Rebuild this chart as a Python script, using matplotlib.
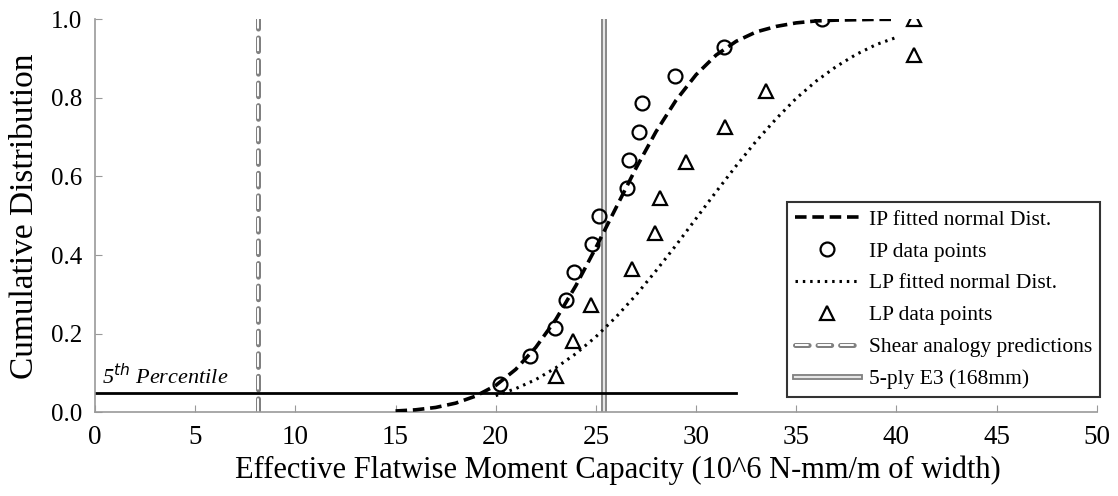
import matplotlib
matplotlib.use("Agg")
import matplotlib.pyplot as plt
import matplotlib.patheffects as pe

plt.rcParams['font.family'] = ['Liberation Serif', 'DejaVu Serif']

# fitted curves
ip_fit_x = [15, 16, 17, 18, 19, 20, 21, 22, 23, 24, 25, 26, 27, 28, 29, 30,
            31, 32, 33, 34, 35, 36, 37, 38, 39, 40]
ip_fit_y = [0.003, 0.006, 0.012, 0.023, 0.041, 0.068, 0.109, 0.165, 0.236,
            0.322, 0.419, 0.520, 0.621, 0.714, 0.794, 0.859, 0.909, 0.944,
            0.968, 0.982, 0.991, 0.996, 0.998, 0.999, 1.0, 1.0]
lp_fit_x = [20, 21, 22, 23, 24, 25, 26, 27, 28, 29, 30, 31, 32, 33, 34, 35,
            36, 37, 38, 39, 40]
lp_fit_y = [0.042, 0.060, 0.083, 0.113, 0.149, 0.192, 0.242, 0.298, 0.360,
            0.425, 0.493, 0.561, 0.627, 0.690, 0.747, 0.799, 0.843, 0.880,
            0.911, 0.936, 0.954]

# data points
ip_x = [20.2, 21.7, 22.95, 23.5, 23.9, 24.8, 25.15, 26.55, 26.65, 27.15,
        27.3, 28.95, 31.4, 36.3]
ip_y = [0.071, 0.143, 0.214, 0.286, 0.357, 0.429, 0.500, 0.571, 0.643,
        0.714, 0.786, 0.857, 0.929, 1.0]
lp_x = [23.0, 23.85, 24.75, 26.8, 27.95, 28.2, 29.5, 31.45, 33.5, 40.9, 40.9]
lp_y = [0.091, 0.182, 0.273, 0.364, 0.455, 0.545, 0.636, 0.727, 0.818,
        0.909, 1.0]

shear_x = 8.15
e3_x = 25.4
pct5 = 0.05
pct5_end = 32

fig = plt.figure(figsize=(11.18, 4.96), dpi=100)
ax = fig.add_axes([0.085, 0.169, 0.896, 0.792])

ax.plot(ip_fit_x, ip_fit_y, color='black', lw=2.6, ls=(0, (3.2, 1.6)),
        label='IP fitted normal Dist.', zorder=3)
ax.plot(ip_x, ip_y, ls='none', marker='o', ms=10, mfc='none', mec='black',
        mew=1.6, label='IP data points', zorder=4)
ax.plot(lp_fit_x, lp_fit_y, color='black', lw=2.2, ls=(0, (0.8, 1.6)),
        label='LP fitted normal Dist.', zorder=3)
ax.plot(lp_x, lp_y, ls='none', marker='^', ms=10, mfc='none', mec='black',
        mew=1.6, label='LP data points', zorder=4)

# hollow grey lines
hollow_round = [pe.Stroke(linewidth=3.6, foreground='#808080',
                          capstyle='round'), pe.Normal()]
hollow = [pe.Stroke(linewidth=4.2, foreground='#808080'), pe.Normal()]
ax.plot([shear_x, shear_x], [0, 1], color='white', lw=1.4,
        ls=(0, (7.0, 4.6)), solid_capstyle='butt', dash_capstyle='butt',
        path_effects=hollow_round,
        label='Shear analogy predictions', zorder=2)
ax.plot([e3_x, e3_x], [0, 1], color='#e6e6e6', lw=1.6,
        path_effects=hollow, label='5-ply E3 (168mm)', zorder=2)

ax.plot([0, pct5_end], [pct5, pct5], color='black', lw=2, zorder=2)
ax.text(0.35, 0.072, r'5$^{th}$ Percentile', fontsize=16, style='italic')

ax.set_xlim(0, 50)
ax.set_ylim(0, 1.0)
ax.set_xticks(range(0, 51, 5))
ax.set_yticks([0, 0.2, 0.4, 0.6, 0.8, 1.0])
ax.set_yticklabels(['0.0', '0.2', '0.4', '0.6', '0.8', '1.0'])
ax.tick_params(direction='in', length=5, color='#999999')
ax.tick_params(axis='x', labelsize=19.5, pad=9)
ax.tick_params(axis='y', labelsize=18, pad=9)
for s in ['top', 'right']:
    ax.spines[s].set_visible(False)
for s in ['left', 'bottom']:
    ax.spines[s].set_color('#999999')
    ax.spines[s].set_linewidth(1.2)

ax.set_xlabel('Effective Flatwise Moment Capacity (10^6 N-mm/m of width)',
              fontsize=22, labelpad=4)
ax.xaxis.label.set_x(0.522)
ax.set_ylabel('Cumulative Distribution', fontsize=24, labelpad=8)

leg = ax.legend(loc='lower right', bbox_to_anchor=(1.014, 0.012),
                fontsize=15.5, frameon=True, fancybox=False,
                edgecolor='black', handlelength=3.0, borderpad=0.35,
                labelspacing=0.55, handletextpad=0.45)
leg.get_frame().set_linewidth(1.5)

fig.savefig('out.png', dpi=100)
